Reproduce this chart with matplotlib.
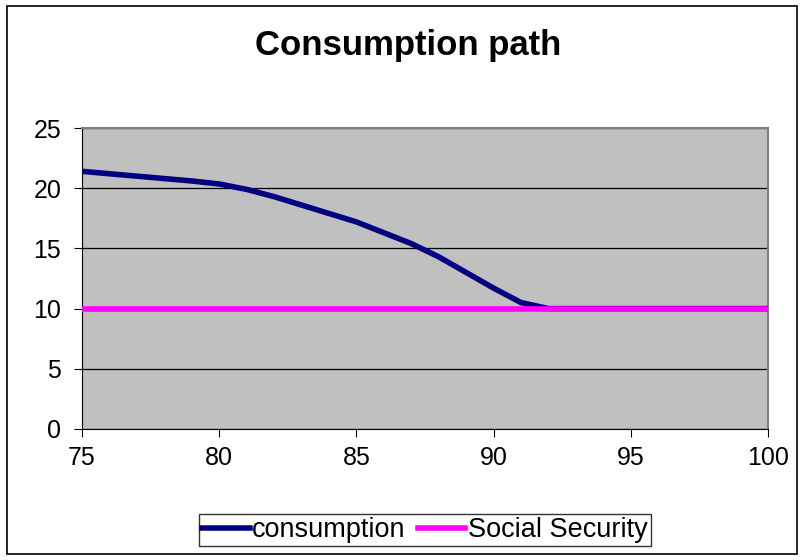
import numpy as np
import matplotlib.pyplot as plt
from matplotlib.patches import Rectangle

plt.rcParams['font.family'] = ['Liberation Sans', 'DejaVu Sans']

# Data
ages = [75, 76, 77, 78, 79, 80, 81, 82, 83, 84, 85, 86, 87, 88, 89, 90, 91, 92,
        93, 94, 95, 96, 97, 98, 99, 100]
consumption = [21.4, 21.2, 21.0, 20.8, 20.6, 20.35, 19.9, 19.3, 18.6, 17.9, 17.2,
               16.3, 15.4, 14.3, 13.0, 11.7, 10.5, 10.0, 10.0, 10.0, 10.0, 10.0,
               10.0, 10.0, 10.0, 10.0]
social_security = [10.0] * len(ages)

fig = plt.figure(figsize=(8.04, 5.6), dpi=100)
ax = fig.add_axes([82 / 804, 1 - 429 / 560, (768 - 82) / 804, (429 - 128) / 560])

# outer chart border
fig.patches.append(Rectangle((7 / 804, 6 / 560), 790 / 804, 548 / 560,
                             transform=fig.transFigure, fill=False,
                             edgecolor='black', linewidth=1.2))

ax.set_facecolor('#C0C0C0')
ax.plot(ages, consumption, color='#000080', linewidth=4, label='consumption', zorder=3)
ax.plot(ages, social_security, color='#FF00FF', linewidth=4, label='Social Security',
        zorder=4)

ax.set_xlim(75, 100)
ax.set_ylim(0, 25)
ax.set_xticks([75, 80, 85, 90, 95, 100])
ax.set_yticks([0, 5, 10, 15, 20, 25])
ax.yaxis.grid(True, color='black', linewidth=0.9)
ax.set_axisbelow(True)
ax.tick_params(direction='out', length=6, labelsize=18, color='black')
ax.tick_params(axis='y', pad=9)
ax.tick_params(axis='x', pad=6)

for side in ['top', 'right']:
    ax.spines[side].set_color('#808080')
    ax.spines[side].set_linewidth(1.5)
ax.spines['left'].set_color('black')
ax.spines['bottom'].set_color('black')

fig.text(408 / 804, 1 - 46 / 560, 'Consumption path', ha='center', va='center',
         fontsize=25, fontweight='bold')

leg = fig.legend(loc='center', ncol=2,
                 bbox_to_anchor=(425 / 804, 1 - 530 / 560), fontsize=19.5,
                 frameon=True, fancybox=False, handlelength=1.75, handletextpad=0.1,
                 columnspacing=0.45, borderpad=0.12, borderaxespad=0)
leg.get_frame().set_edgecolor('black')
leg.get_frame().set_linewidth(1.0)

fig.savefig('out.png', dpi=100)
